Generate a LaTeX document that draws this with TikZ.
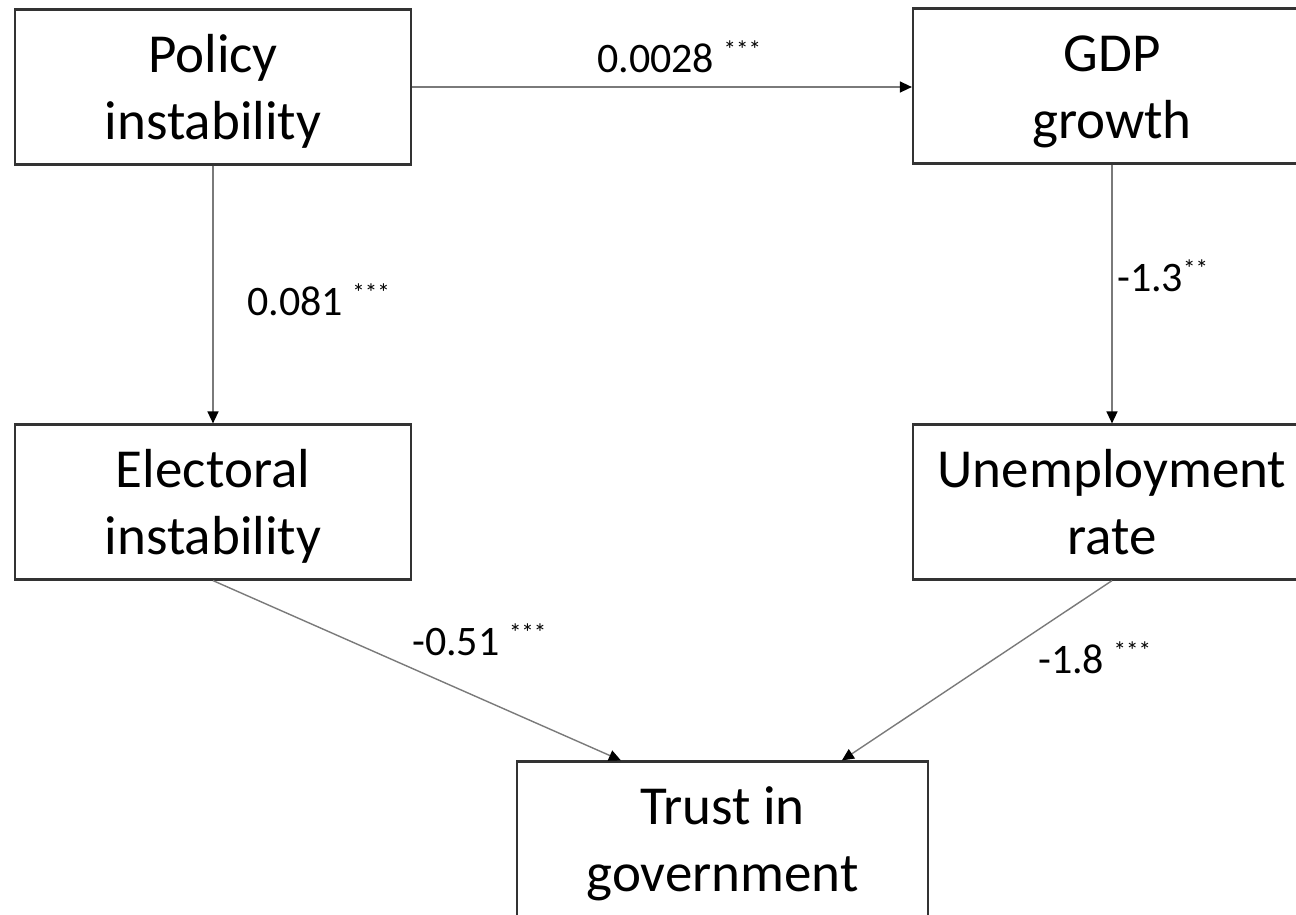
\documentclass[tikz,border=0pt]{standalone}
\usepackage{fontspec}
\setmainfont{Carlito}
\usetikzlibrary{arrows.meta,calc}
\definecolor{boxgray}{HTML}{333333}
\definecolor{linegray}{HTML}{7A7A7A}
\newcommand{\sigstars}[1]{\raisebox{14pt}{\fontsize{25}{25}\selectfont #1}}
\newcommand{\bxtop}{\rule{0pt}{56pt}}
\newcommand{\bxbot}{\rule[-18pt]{0pt}{18pt}}
\begin{document}
\begin{tikzpicture}[x=1pt,y=-1pt,
  box/.style={draw=boxgray, line width=2.2pt, fill=white, minimum width=396pt,
    minimum height=155pt, inner sep=0pt, align=center,
    font=\fontsize{55}{67}\selectfont},
  conn/.style={draw=linegray, line width=1.4pt,
    -{Triangle[length=12pt,width=11pt,fill=black,color=black]}},
  lab/.style={anchor=base west, inner sep=0pt, font=\fontsize{42}{50}\selectfont}]
\useasboundingbox (0,0) rectangle (1296,914);
\clip (0,0) rectangle (1296,914);
\fill[white] (0,0) rectangle (1296,914);

\node[box] (policy) at (213,87) {\bxtop Policy\\instability\bxbot};
\node[box, minimum width=398pt] (gdp) at (1112,86) {\bxtop GDP\\growth\bxbot};
\node[box] (electoral) at (213,502) {\bxtop Electoral\\instability\bxbot};
\node[box, minimum width=398pt] (unemp) at (1112,502) {\bxtop Unemployment\\rate\bxbot};
\node[box, minimum width=411pt] (trust) at (722.5,839) {\bxtop Trust in\\government\bxbot};

\coordinate (t1) at ([xshift=105pt]trust.north west);
\coordinate (t2) at ([xshift=326pt]trust.north west);

\draw[conn] (policy.east) -- (policy.east -| gdp.west);
\draw[conn] (policy.south) -- (electoral.north);
\draw[conn] (gdp.south) -- (unemp.north);
\draw[conn] (electoral.south) -- (t1);
\draw[conn] (unemp.south) -- (t2);

\node[lab] (l1) at (597,72) {0.0028 \sigstars{***}};
\node[lab] (l2) at (247,315) {0.081 \sigstars{***}};
\node[lab] (l3) at (1117,291) {-1.3\sigstars{**}};
\node[lab] (l4) at (412,655) {-0.51 \sigstars{***}};
\node[lab] (l5) at (1038,673) {-1.8 \sigstars{***}};
\end{tikzpicture}
\end{document}
